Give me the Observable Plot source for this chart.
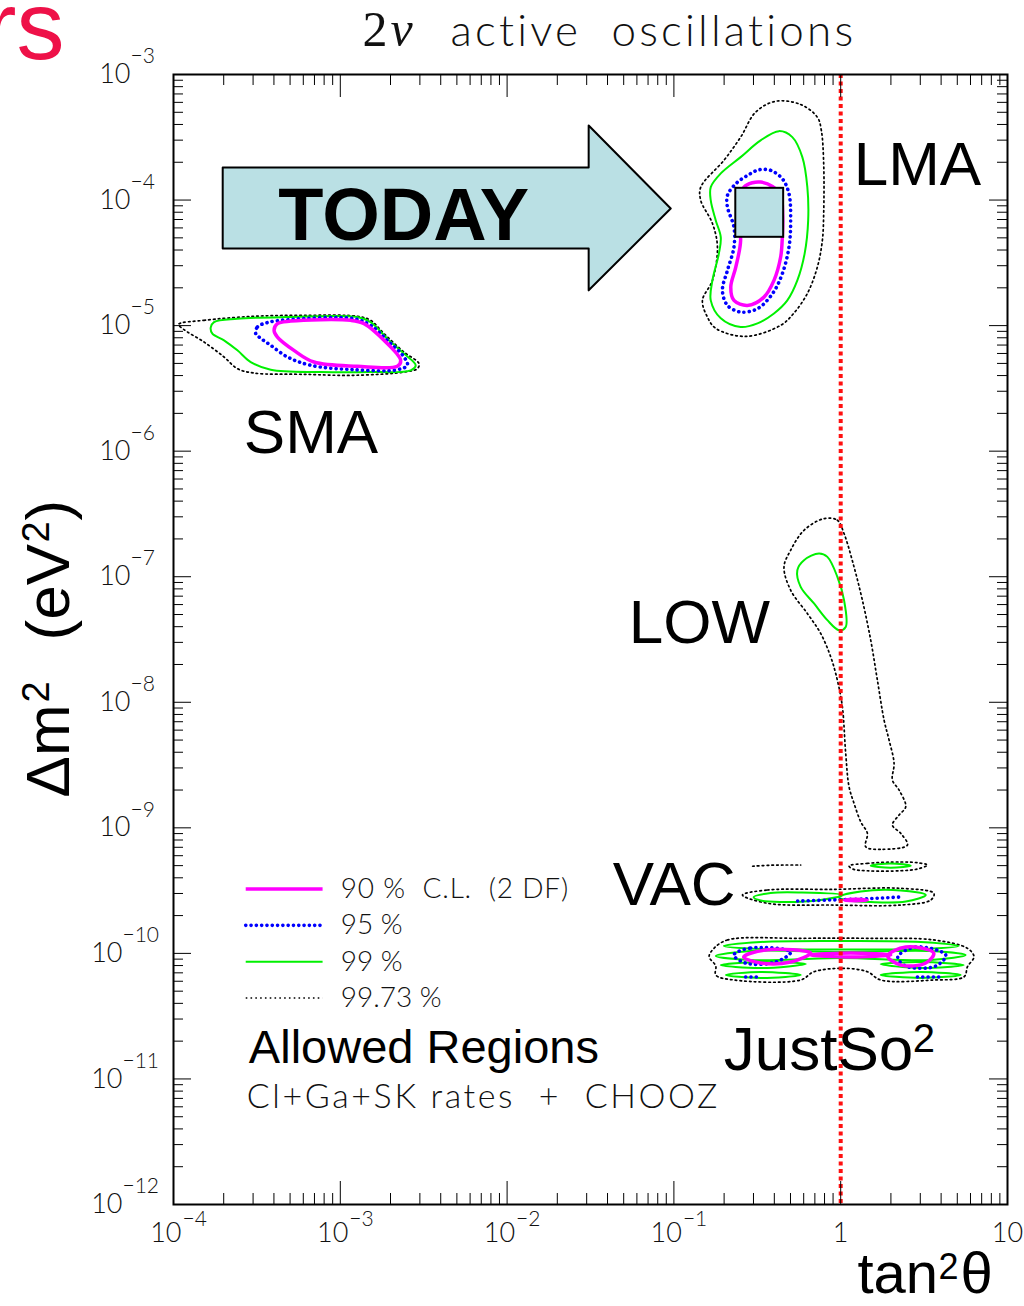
<!DOCTYPE html>
<html><head><meta charset="utf-8">
<script src="https://cdn.jsdelivr.net/npm/d3@7"></script>
<script src="https://cdn.jsdelivr.net/npm/@observablehq/plot@0.6"></script>
<style>
html,body{margin:0;padding:0;background:#fff;}
#chart svg text{white-space:pre;}
</style></head><body><div id="chart"></div>
<script>
// ---------------- axis ticks & labels ----------------
const xMajor = [1e-4, 1e-3, 1e-2, 1e-1, 1, 10];
const xLabelBase = ["10", "10", "10", "10", "1", "10"];
const xLabelExp = ["−4", "−3", "−2", "−1", "", ""];
const yMajor = [1e-3, 1e-4, 1e-5, 1e-6, 1e-7, 1e-8, 1e-9, 1e-10, 1e-11, 1e-12];
const yLabelExp = ["−3", "−4", "−5", "−6", "−7", "−8", "−9", "−10", "−11", "−12"];

// ---------------- contours: [log10(tan²θ), log10(Δm²/eV²)] ----------------
// LMA
const lma9973 = [[-0.390,-3.213],[-0.240,-3.239],[-0.140,-3.340],[-0.116,-3.446],[-0.102,-3.709],[-0.102,-4.107],[-0.110,-4.322],[-0.140,-4.534],[-0.200,-4.744],[-0.282,-4.903],[-0.360,-4.998],[-0.570,-5.086],[-0.749,-5.022],[-0.799,-4.932],[-0.829,-4.799],[-0.769,-4.640],[-0.739,-4.375],[-0.769,-4.186],[-0.839,-4.003],[-0.839,-3.897],[-0.701,-3.685],[-0.600,-3.499],[-0.510,-3.300]];
const lma99 = [[-0.370,-3.451],[-0.290,-3.499],[-0.230,-3.658],[-0.200,-3.897],[-0.195,-4.162],[-0.216,-4.425],[-0.260,-4.640],[-0.320,-4.799],[-0.400,-4.903],[-0.499,-4.982],[-0.600,-5.011],[-0.719,-4.942],[-0.779,-4.799],[-0.769,-4.640],[-0.730,-4.425],[-0.719,-4.295],[-0.749,-4.162],[-0.779,-4.003],[-0.779,-3.897],[-0.719,-3.788],[-0.600,-3.658],[-0.480,-3.525]];
const lma95 = [[-0.490,-3.759],[-0.420,-3.764],[-0.350,-3.830],[-0.310,-3.950],[-0.300,-4.162],[-0.310,-4.375],[-0.350,-4.586],[-0.409,-4.746],[-0.499,-4.865],[-0.600,-4.892],[-0.679,-4.839],[-0.709,-4.719],[-0.679,-4.560],[-0.640,-4.375],[-0.640,-4.215],[-0.679,-4.056],[-0.679,-3.963],[-0.629,-3.870],[-0.559,-3.804]];
const lma90 = [[-0.480,-3.857],[-0.409,-3.892],[-0.360,-3.963],[-0.348,-4.122],[-0.350,-4.295],[-0.360,-4.454],[-0.400,-4.640],[-0.460,-4.773],[-0.559,-4.839],[-0.640,-4.799],[-0.659,-4.693],[-0.629,-4.534],[-0.600,-4.322],[-0.618,-4.122],[-0.620,-4.056],[-0.580,-3.897],[-0.529,-3.862]];
// SMA
const sma9973 = [[-3.969,-4.990],[-3.817,-4.958],[-3.517,-4.926],[-3.218,-4.918],[-2.898,-4.926],[-2.818,-4.958],[-2.738,-5.064],[-2.618,-5.211],[-2.528,-5.303],[-2.538,-5.343],[-2.618,-5.370],[-2.918,-5.396],[-3.218,-5.388],[-3.517,-5.378],[-3.617,-5.343],[-3.697,-5.250],[-3.817,-5.131],[-3.937,-5.032]];
const sma99 = [[-3.777,-5.016],[-3.757,-4.972],[-3.617,-4.945],[-3.317,-4.932],[-2.898,-4.932],[-2.818,-4.972],[-2.718,-5.104],[-2.618,-5.223],[-2.548,-5.316],[-2.578,-5.356],[-2.818,-5.370],[-3.118,-5.370],[-3.417,-5.351],[-3.537,-5.290],[-3.617,-5.197],[-3.697,-5.117],[-3.767,-5.064]];
const sma95 = [[-3.507,-5.064],[-3.497,-5.011],[-3.438,-4.976],[-3.317,-4.953],[-2.918,-4.945],[-2.818,-4.998],[-2.718,-5.117],[-2.618,-5.250],[-2.598,-5.316],[-2.658,-5.351],[-2.918,-5.351],[-3.177,-5.316],[-3.317,-5.250],[-3.417,-5.157],[-3.477,-5.101]];
const sma90 = [[-3.397,-5.038],[-3.377,-4.984],[-3.297,-4.964],[-2.938,-4.958],[-2.858,-4.984],[-2.738,-5.117],[-2.638,-5.277],[-2.658,-5.324],[-2.898,-5.324],[-3.158,-5.290],[-3.278,-5.197],[-3.377,-5.091]];
// LOW
const low9973 = [[-0.100,-6.537],[-0.020,-6.550],[0.020,-6.656],[0.080,-6.922],[0.130,-7.187],[0.180,-7.505],[0.220,-7.824],[0.260,-8.142],[0.290,-8.301],[0.320,-8.487],[0.310,-8.620],[0.350,-8.699],[0.390,-8.832],[0.350,-8.898],[0.310,-8.978],[0.360,-9.044],[0.400,-9.137],[0.240,-9.171],[0.150,-9.151],[0.160,-9.044],[0.120,-8.952],[0.080,-8.805],[0.050,-8.673],[0.030,-8.407],[0.010,-8.036],[-0.020,-7.824],[-0.060,-7.638],[-0.120,-7.452],[-0.200,-7.293],[-0.300,-7.107],[-0.340,-6.922],[-0.300,-6.789],[-0.220,-6.630]];
const low99 = [[-0.130,-6.815],[-0.080,-6.842],[-0.020,-7.001],[0.020,-7.187],[0.030,-7.400],[-0.010,-7.426],[-0.080,-7.346],[-0.160,-7.213],[-0.240,-7.081],[-0.260,-6.948],[-0.220,-6.868]];
// VAC
const vac9973a = [[0.05,-9.304],[0.16,-9.283],[0.36,-9.272],[0.46,-9.278],[0.52,-9.296],[0.46,-9.328],[0.36,-9.342],[0.16,-9.342],[0.072,-9.328]];
const vac9973b = [[-0.589,-9.535],[-0.439,-9.495],[-0.040,-9.490],[0.360,-9.482],[0.559,-9.522],[0.540,-9.575],[0.360,-9.615],[-0.040,-9.615],[-0.439,-9.601]];
const vac9973open = [[-0.528,-9.306],[-0.42,-9.298],[-0.33,-9.296],[-0.24,-9.296]];
const vac99a = [[0.18,-9.301],[0.30,-9.284],[0.42,-9.301],[0.30,-9.318]];
const vac99L = [[-0.522,-9.551],[-0.420,-9.519],[-0.240,-9.515],[0.012,-9.535],[-0.120,-9.575],[-0.360,-9.591],[-0.480,-9.579]];
const vac99R = [[-0.012,-9.551],[0.120,-9.507],[0.360,-9.499],[0.510,-9.535],[0.390,-9.587],[0.180,-9.591],[0.030,-9.575]];
const vac95open = [[-0.258,-9.583],[-0.060,-9.575],[0.120,-9.567],[0.360,-9.551]];
const vac90 = [[0.02,-9.575],[0.09,-9.569],[0.16,-9.575],[0.09,-9.581]];
// JustSo²
const js9973 = [[-0.760,-9.960],[-0.679,-9.893],[-0.240,-9.880],[0.160,-9.880],[0.559,-9.893],[0.760,-9.960],[0.799,-10.026],[0.760,-10.106],[0.740,-10.186],[0.559,-10.212],[0.240,-10.212],[0.160,-10.146],[0.020,-10.119],[-0.160,-10.146],[-0.240,-10.212],[-0.640,-10.212],[-0.749,-10.172],[-0.749,-10.100],[-0.789,-10.026]];
const js99a = [[-0.701,-9.941],[-0.48,-9.909],[0,-9.901],[0.48,-9.909],[0.707,-9.941],[0.48,-9.965],[0,-9.969],[-0.48,-9.965]];
const js99b = [[-0.749,-10.021],[-0.54,-9.981],[0,-9.989],[0.54,-9.981],[0.749,-10.013],[0.54,-10.053],[0,-10.037],[-0.54,-10.053]];
const js99c = [[-0.719,-10.093],[-0.48,-10.069],[-0.21,-10.085],[-0.48,-10.117]];
const js99d = [[0.24,-10.085],[0.48,-10.069],[0.737,-10.093],[0.48,-10.117]];
const js99e = [[-0.689,-10.172],[-0.48,-10.148],[-0.24,-10.172],[-0.48,-10.196]];
const js99f = [[0.24,-10.172],[0.48,-10.148],[0.719,-10.172],[0.48,-10.196]];
const js95L = [[-0.641,-10.013],[-0.540,-9.957],[-0.300,-9.989],[-0.390,-10.069],[-0.570,-10.077]];
const js95R = [[0.342,-10.029],[0.450,-9.949],[0.630,-10.013],[0.570,-10.101],[0.390,-10.101]];
const js95openL = [[-0.57,-10.188],[-0.48,-10.188]];
const js95openR = [[0.46,-10.188],[0.60,-10.188]];
const js90L = [[-0.582,-10.029],[-0.450,-9.973],[-0.180,-9.997],[-0.300,-10.069],[-0.480,-10.077]];
const js90C = [[-0.18,-10.013],[0.06,-9.997],[0.30,-10.013],[0.06,-10.029]];
const js90R = [[0.282,-10.021],[0.390,-9.949],[0.558,-9.997],[0.510,-10.077],[0.360,-10.093]];

// ---------------- annotations ----------------
const arrowOutline = [[-3.705,-3.740],[-1.511,-3.740],[-1.511,-3.406],[-1.019,-4.067],[-1.511,-4.719],[-1.511,-4.385],[-3.705,-4.385]];
const todayBox = {x1: 0.235, x2: 0.455, y1: 5.05e-5, y2: 1.24e-4};
const regionNames = ["LMA", "SMA", "LOW", "VAC", "JustSo"];
const regionAt = [[1.197, 1.31e-4], [2.64e-4, 9.6e-7], [0.0536, 2.96e-8], [0.043, 2.43e-10], [0.199, 1.18e-11]];
const levels = ["90 %  C.L.  (2 DF)", "95 %", "99 %", "99.73 %"];

// ---------------- build tables ----------------
let cid = 0;
const rows = (pts) => { const id = cid++; return pts.map(([a, b]) => ({id, tan2: 10 ** a, dm2: 10 ** b})); };
const closed90 = [lma90, sma90, vac90, js90L, js90C, js90R].flatMap(rows);
const closed95 = [lma95, sma95, js95L, js95R].flatMap(rows);
const open95 = [vac95open, js95openL, js95openR].flatMap(rows);
const closed99 = [lma99, sma99, low99, vac99a, vac99L, vac99R, js99a, js99b, js99c, js99d, js99e, js99f].flatMap(rows);
const closed9973 = [lma9973, sma9973, low9973, vac9973a, vac9973b, js9973].flatMap(rows);
const open9973 = [vac9973open].flatMap(rows);
const arrow = arrowOutline.map(([a, b]) => ({tan2: 10 ** a, dm2: 10 ** b}));

const minor = (lo, hi) => d3.range(lo, hi).flatMap(e => d3.range(2, 10).map(k => k * 10 ** e));
const xMinor = minor(-4, 1);
const yMinor = minor(-12, -3);
const xTicks = xMajor.map((v, i) => ({v, base: xLabelBase[i], exp: xLabelExp[i]}));
const yTicks = yMajor.map((v, i) => ({v, exp: yLabelExp[i]}));

const W = 1024, H = 1306, mt = 74, mr = 17, mb = 102, ml = 173;
const fw = W - ml - mr, fh = H - mt - mb;
const paw = "Lato, 'Open Sans', sans-serif";
const helv = "'Liberation Sans', Arial, sans-serif";
const serif = "'Liberation Serif', 'DejaVu Serif', serif";
const ink = "#111";

const st = {
  "90": {stroke: "#ff00ff", strokeWidth: 3.5},
  "95": {stroke: "#0000ff", strokeWidth: 3.6, strokeDasharray: "0.1,5.2", strokeLinecap: "round"},
  "99": {stroke: "#00f000", strokeWidth: 2},
  "9973": {stroke: "#000", strokeWidth: 1.7, strokeDasharray: "1.6,3.2"}
};
const legendRows = levels.map((t, i) => ({t, y: 10 ** (-9.487 - i * 0.2895)}));
const txt = (s, o) => Plot.text([s], {text: d => d, ...o});

const plot = Plot.plot({
  width: W, height: H, marginTop: mt, marginRight: mr, marginBottom: mb, marginLeft: ml,
  x: {type: "log", domain: [1e-4, 10], axis: null},
  y: {type: "log", domain: [1e-12, 1e-3], axis: null},
  style: {background: "#fff", color: ink},
  marks: [
    // contours
    Plot.line(closed9973, {x: "tan2", y: "dm2", z: "id", curve: "catmull-rom-closed", ...st["9973"]}),
    Plot.line(open9973, {x: "tan2", y: "dm2", z: "id", curve: "catmull-rom", ...st["9973"]}),
    Plot.line(closed99, {x: "tan2", y: "dm2", z: "id", curve: "catmull-rom-closed", ...st["99"]}),
    Plot.line(closed95, {x: "tan2", y: "dm2", z: "id", curve: "catmull-rom-closed", ...st["95"]}),
    Plot.line(open95, {x: "tan2", y: "dm2", z: "id", curve: "catmull-rom", ...st["95"]}),
    Plot.line(closed90, {x: "tan2", y: "dm2", z: "id", curve: "catmull-rom-closed", ...st["90"]}),
    // TODAY arrow and box
    Plot.line(arrow, {x: "tan2", y: "dm2", curve: "linear-closed", fill: "#bae0e4", stroke: "#000", strokeWidth: 2}),
    Plot.rect([todayBox], {x1: "x1", x2: "x2", y1: "y1", y2: "y2", fill: "#bae0e4", stroke: "#000", strokeWidth: 2}),
    txt("TODAY", {x: 2.4e-3, y: 4.78e-5, textAnchor: "middle", lineAnchor: "bottom", fontSize: 74, fontWeight: "bold", fontFamily: helv, fill: "#000"}),
    // maximal mixing line
    Plot.ruleX([1], {stroke: "#ff1010", strokeWidth: 4, strokeDasharray: "4,3.5"}),
    // region names
    Plot.text(regionNames, {x: (d, i) => regionAt[i][0], y: (d, i) => regionAt[i][1], text: d => d, textAnchor: "start", lineAnchor: "bottom", fontSize: 62, fontFamily: helv, fill: "#000"}),
    txt("2", {x: 2.7, y: 1.64e-11, textAnchor: "start", lineAnchor: "bottom", fontSize: 40, fontFamily: helv, fill: "#000"}),
    // legend
    Plot.link([legendRows[0]], {x1: 2.71e-4, x2: 7.83e-4, y1: "y", y2: "y", ...st["90"]}),
    Plot.link([legendRows[1]], {x1: 2.71e-4, x2: 7.83e-4, y1: "y", y2: "y", ...st["95"]}),
    Plot.link([legendRows[2]], {x1: 2.71e-4, x2: 7.83e-4, y1: "y", y2: "y", ...st["99"]}),
    Plot.link([legendRows[3]], {x1: 2.71e-4, x2: 7.83e-4, y1: "y", y2: "y", ...st["9973"]}),
    Plot.text(legendRows, {x: 1.005e-3, y: "y", text: "t", textAnchor: "start", fontSize: 28, fontFamily: paw, fontWeight: 300, fill: ink}),
    txt("Allowed Regions", {x: 2.83e-4, y: 1.34e-11, textAnchor: "start", lineAnchor: "bottom", fontSize: 47, fontFamily: helv, fill: "#000"}),
    txt("Cl+Ga+SK rates  +  CHOOZ", {x: 2.75e-4, y: 5.87e-12, textAnchor: "start", lineAnchor: "bottom", fontSize: 34, fontFamily: paw, fontWeight: 300, fill: ink}),
    // ticks (inward, all four sides)
    Plot.ruleX(xMajor, {insetTop: fh - 23, stroke: "#000"}),
    Plot.ruleX(xMinor, {insetTop: fh - 11, stroke: "#000"}),
    Plot.ruleX(xMajor, {insetBottom: fh - 23, stroke: "#000"}),
    Plot.ruleX(xMinor, {insetBottom: fh - 11, stroke: "#000"}),
    Plot.ruleY(yMajor, {insetRight: fw - 18, stroke: "#000"}),
    Plot.ruleY(yMinor, {insetRight: fw - 10, stroke: "#000"}),
    Plot.ruleY(yMajor, {insetLeft: fw - 18, stroke: "#000"}),
    Plot.ruleY(yMinor, {insetLeft: fw - 10, stroke: "#000"}),
    Plot.frame({stroke: "#000", strokeWidth: 2}),
    // y tick labels
    Plot.text(yTicks.filter(d => d.exp.length < 3), {y: "v", text: () => "10", frameAnchor: "left", textAnchor: "end", dx: -43, fontSize: 27, fontFamily: paw, fontWeight: 300, fill: ink}),
    Plot.text(yTicks.filter(d => d.exp.length < 3), {y: "v", text: "exp", frameAnchor: "left", textAnchor: "start", dx: -43, dy: -18, fontSize: 21, fontFamily: paw, fontWeight: 300, fill: ink}),
    Plot.text(yTicks.filter(d => d.exp.length >= 3), {y: "v", text: () => "10", frameAnchor: "left", textAnchor: "end", dx: -51, fontSize: 27, fontFamily: paw, fontWeight: 300, fill: ink}),
    Plot.text(yTicks.filter(d => d.exp.length >= 3), {y: "v", text: "exp", frameAnchor: "left", textAnchor: "start", dx: -51, dy: -18, fontSize: 21, fontFamily: paw, fontWeight: 300, fill: ink}),
    // x tick labels
    Plot.text(xTicks.filter(d => d.exp), {x: "v", text: "base", frameAnchor: "bottom", textAnchor: "end", dx: 8, dy: 37, fontSize: 27, fontFamily: paw, fontWeight: 300, fill: ink}),
    Plot.text(xTicks.filter(d => d.exp), {x: "v", text: "exp", frameAnchor: "bottom", textAnchor: "start", dx: 9, dy: 21, fontSize: 21, fontFamily: paw, fontWeight: 300, fill: ink}),
    Plot.text(xTicks.filter(d => !d.exp), {x: "v", text: "base", frameAnchor: "bottom", textAnchor: "middle", dy: 37, fontSize: 27, fontFamily: paw, fontWeight: 300, fill: ink}),
    // title
    txt("2", {frameAnchor: "top-left", dx: 189, dy: -29, textAnchor: "start", lineAnchor: "bottom", fontSize: 50, fontFamily: serif, fill: ink}),
    txt("ν", {frameAnchor: "top-left", dx: 217, dy: -29, textAnchor: "start", lineAnchor: "bottom", fontSize: 50, fontFamily: serif, fontStyle: "italic", fill: ink}),
    txt("active  oscillations", {frameAnchor: "top-left", dx: 277, dy: -29, textAnchor: "start", lineAnchor: "bottom", fontSize: 44, fontFamily: paw, fontWeight: 300, fill: ink}),
    txt("rs", {frameAnchor: "top-left", dx: -109, dy: -16, textAnchor: "end", lineAnchor: "bottom", fontSize: 96, fontFamily: helv, fill: "#ee1148"}),
    // y axis label  Δm² (eV²)
    txt("Δm", {frameAnchor: "left", dx: -105, dy: 158, rotate: -90, textAnchor: "start", lineAnchor: "bottom", fontSize: 62, fontFamily: helv, fill: "#000"}),
    txt("2", {frameAnchor: "left", dx: -125, dy: 63, rotate: -90, textAnchor: "start", lineAnchor: "bottom", fontSize: 38, fontFamily: helv, fill: "#000"}),
    txt("(eV", {frameAnchor: "left", dx: -105, dy: 1, rotate: -90, textAnchor: "start", lineAnchor: "bottom", fontSize: 62, fontFamily: helv, fill: "#000"}),
    txt("2", {frameAnchor: "left", dx: -125, dy: -97, rotate: -90, textAnchor: "start", lineAnchor: "bottom", fontSize: 38, fontFamily: helv, fill: "#000"}),
    txt(")", {frameAnchor: "left", dx: -105, dy: -119, rotate: -90, textAnchor: "start", lineAnchor: "bottom", fontSize: 62, fontFamily: helv, fill: "#000"}),
    // x axis label  tan²θ
    txt("tan", {frameAnchor: "bottom-left", dx: 684, dy: 88, textAnchor: "start", lineAnchor: "bottom", fontSize: 58, fontFamily: helv, fill: "#000"}),
    txt("2", {frameAnchor: "bottom-left", dx: 765, dy: 74, textAnchor: "start", lineAnchor: "bottom", fontSize: 36, fontFamily: helv, fill: "#000"}),
    txt("θ", {frameAnchor: "bottom-left", dx: 787, dy: 88, textAnchor: "start", lineAnchor: "bottom", fontSize: 58, fontFamily: helv, fill: "#000"})
  ]
});
// letter spacing of the wide PAW-style text
const spacing = {"active  oscillations": 3.2, "90 %  C.L.  (2 DF)": 0.8, "Cl+Ga+SK rates  +  CHOOZ": 2.6};
d3.select(plot).selectAll("text").each(function () {
  const s = spacing[this.textContent];
  if (s != null) this.setAttribute("letter-spacing", s);
});
document.getElementById("chart").append(plot);
</script>
</body></html>
